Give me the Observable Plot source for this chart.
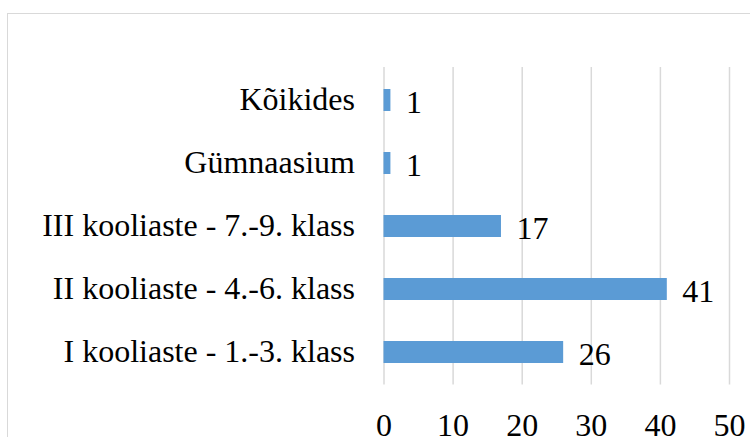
<!DOCTYPE html>
<html>
<head>
<meta charset="utf-8">
<script src="https://cdn.jsdelivr.net/npm/d3@7"></script>
<script src="https://cdn.jsdelivr.net/npm/@observablehq/plot@0.6"></script>
<style>
  html, body { margin: 0; padding: 0; background: #fff; overflow: hidden; width: 750px; height: 437px; }
  #wrap { position: relative; width: 750px; height: 437px; overflow: hidden; }
  #border { position: absolute; left: 7px; top: 13px; width: 800px; height: 500px; border: 1.5px solid #d9d9d9; box-sizing: border-box; }
  #chart { position: absolute; left: 0; top: 0; }
</style>
</head>
<body>
<div id="wrap"><div id="border"></div><div id="chart"></div></div>
<script>
const categories = [
  "I kooliaste - 1.-3. klass",
  "II kooliaste - 4.-6. klass",
  "III kooliaste - 7.-9. klass",
  "Gümnaasium",
  "Kõikides"
];
const values = [26, 41, 17, 1, 1];
const xTicks = [0, 10, 20, 30, 40, 50];

const data = categories.map((c, i) => ({category: c, value: values[i]}));
const FONT = "'Liberation Serif', 'Times New Roman', serif";

const chart = Plot.plot({
  width: 750,
  height: 437,
  marginLeft: 383.5,
  marginRight: 21,
  marginTop: 67,
  marginBottom: 52.5,
  style: {
    fontFamily: FONT,
    fontSize: "32px",
    color: "#000",
    background: "transparent",
    overflow: "visible"
  },
  x: {domain: [0, 50], ticks: xTicks, label: null},
  y: {domain: [...categories].reverse(), paddingInner: 0.65, paddingOuter: 0.325, label: null},
  marks: [
    Plot.gridX(xTicks, {stroke: "#d9d9d9", strokeOpacity: 1, strokeWidth: 1.5}),
    Plot.barX(data, {x: "value", y: "category", fill: "#5b9bd5"}),
    Plot.text(data, {x: "value", y: "category", text: d => String(d.value), textAnchor: "start", dx: 15, dy: 2, fill: "#000", fontFamily: FONT, fontSize: 32}),
    Plot.axisX({ticks: xTicks, tickSize: 0, tickPadding: 28, label: null, fontFamily: FONT, fontSize: 32}),
    Plot.axisY({tickSize: 0, tickPadding: 29, label: null, fontFamily: FONT, fontSize: 32, dy: -1})
  ]
});
document.getElementById("chart").appendChild(chart);
</script>
</body>
</html>
